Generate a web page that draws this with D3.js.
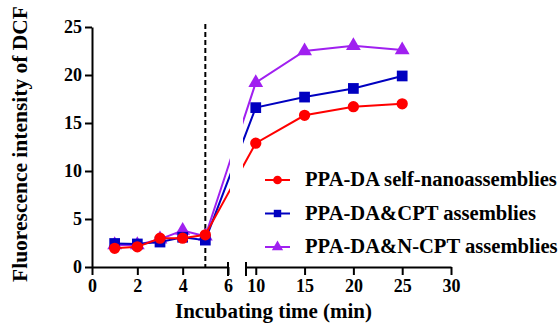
<!DOCTYPE html>
<html>
<head>
<meta charset="utf-8">
<script src="https://cdn.jsdelivr.net/npm/d3@7"></script>
<style>
  body { margin: 0; background: #fff; }
</style>
</head>
<body>
<script>
var width = 559,
  height = 325;

// data
var times = [1, 2, 3, 4, 5, 10, 15, 20, 25];
var selfNano = [1.95, 2.1, 3.0, 3.0, 3.35, 12.9, 15.8, 16.7, 17.0];
var cptAssem = [2.45, 2.4, 2.6, 3.1, 2.8, 16.6, 17.7, 18.6, 19.9];
var ncptAssem = [2.3, 2.3, 2.9, 3.8, 3.2, 19.2, 22.5, 23.05, 22.6];
var seriesNames = ["PPA-DA self-nanoassemblies", "PPA-DA&CPT assemblies", "PPA-DA&N-CPT assemblies"];
var seriesColors = ["#ff0000", "#0000c0", "#a020f0"];
var leftTicks = [0, 2, 4, 6];
var rightTicks = [10, 15, 20, 25, 30];
var yTicks = [0, 5, 10, 15, 20, 25];

var svg = d3.select("body").append("svg")
  .attr("width", width)
  .attr("height", height);

var xLeft = d3.scaleLinear().domain([0, 6]).range([92, 228]);
var xRight = d3.scaleLinear().domain([9, 30]).range([246, 451]);
var y = d3.scaleLinear().domain([0, 25]).range([267, 27]);

var xPos = (t) => (t <= 6 ? xLeft(t) : xRight(t));

function serif(sel, size) {
  return sel
    .style("font-family", "'Liberation Serif'")
    .style("font-weight", "bold")
    .style("font-size", size + "px")
    .attr("fill", "#000");
}

// scale a text's font so it spans the width seen in the picture
function fitText(sel, target) {
  var len = sel.node().getComputedTextLength();
  var fs = parseFloat(sel.style("font-size"));
  sel.style("font-size", (fs * target) / len + "px");
}

var series = [
  { name: seriesNames[2], color: seriesColors[2], shape: d3.symbolTriangle, values: ncptAssem },
  { name: seriesNames[1], color: seriesColors[1], shape: d3.symbolSquare, values: cptAssem },
  { name: seriesNames[0], color: seriesColors[0], shape: d3.symbolCircle, values: selfNano }
];

var defs = svg.append("defs");
defs.append("clipPath").attr("id", "clipL")
  .append("rect").attr("x", 0).attr("y", 0)
  .attr("width", xLeft(6) + 2).attr("height", height);
defs.append("clipPath").attr("id", "clipR")
  .append("rect").attr("x", xRight(9) - 3).attr("y", 0)
  .attr("width", width).attr("height", height);

var line = d3.line()
  .x((d) => xPos(d[0]))
  .y((d) => y(d[1]));

// dashed marker at 5 min
svg.append("line")
  .attr("x1", xLeft(5)).attr("x2", xLeft(5))
  .attr("y1", y(25.3)).attr("y2", y(0))
  .attr("stroke", "#000")
  .attr("stroke-width", 2)
  .attr("stroke-dasharray", "5,3");

series.forEach((s) => {
  var pts = times.map((t, i) => [t, s.values[i]]);
  ["clipL", "clipR"].forEach((c) => {
    svg.append("path")
      .datum(pts)
      .attr("clip-path", `url(#${c})`)
      .attr("fill", "none")
      .attr("stroke", s.color)
      .attr("stroke-width", 2)
      .attr("d", line);
  });
  var size = s.shape === d3.symbolCircle ? 100 : s.shape === d3.symbolSquare ? 115 : 95;
  svg.append("g")
    .selectAll("path")
    .data(pts)
    .enter()
    .append("path")
    .attr("transform", (d) => `translate(${xPos(d[0])},${y(d[1])})`)
    .attr("d", d3.symbol().type(s.shape).size(size))
    .attr("fill", s.color);
});

// axes
function styleAxis(g) {
  g.attr("font-family", null).attr("font-size", null);
  g.selectAll("path.domain").attr("stroke-width", 2);
  g.selectAll(".tick line").attr("stroke-width", 2);
  g.selectAll("text").call(serif, 18);
}

svg.append("g")
  .attr("transform", `translate(0,${y(0)})`)
  .call(d3.axisBottom(xLeft).tickValues(leftTicks).tickFormat(d3.format("d"))
    .tickSize(8).tickSizeOuter(0).tickPadding(4))
  .call(styleAxis);

svg.append("g")
  .attr("transform", `translate(0,${y(0)})`)
  .call(d3.axisBottom(xRight).tickValues(rightTicks).tickFormat(d3.format("d"))
    .tickSize(8).tickSizeOuter(0).tickPadding(4))
  .call(styleAxis);

// break caps
[xLeft(6), xRight(9)].forEach((cx) => {
  svg.append("line")
    .attr("x1", cx).attr("x2", cx)
    .attr("y1", y(0) - 5).attr("y2", y(0) + 9)
    .attr("stroke", "#000").attr("stroke-width", 2);
});

svg.append("g")
  .attr("transform", `translate(${xLeft(0)},0)`)
  .call(d3.axisLeft(y).tickValues(yTicks).tickFormat(d3.format("d"))
    .tickSize(7).tickSizeOuter(0).tickPadding(3))
  .call(styleAxis);

var xTitle = svg.append("text")
  .attr("x", 273.5)
  .attr("y", 318)
  .attr("text-anchor", "middle")
  .call(serif, 18)
  .text("Incubating time (min)");
fitText(xTitle, 197);

var yTitle = svg.append("text")
  .attr("transform", "translate(27,144) rotate(-90)")
  .attr("text-anchor", "middle")
  .call(serif, 18)
  .text("Fluorescence intensity of DCF");
fitText(yTitle, 276);

// legend
var legend = svg.append("g").attr("transform", "translate(265,180)");
var legendItems = [series[2], series[1], series[0]];
var legendFont = "20px";
legendItems.forEach((s, i) => {
  var g = legend.append("g").attr("transform", `translate(0,${i * 33.5})`);
  g.append("line").attr("x1", 0).attr("x2", 25)
    .attr("stroke", s.color).attr("stroke-width", 2);
  g.append("path")
    .attr("transform", "translate(12.5,0)")
    .attr("d", d3.symbol().type(s.shape).size(s.shape === d3.symbolCircle ? 60 : 55))
    .attr("fill", s.color);
  var t = g.append("text")
    .attr("x", 40).attr("y", 6)
    .call(serif, 20)
    .text(s.name);
  if (i === 0) {
    fitText(t, 252);
    legendFont = t.style("font-size");
  } else {
    t.style("font-size", legendFont);
  }
});
</script>
</body>
</html>
